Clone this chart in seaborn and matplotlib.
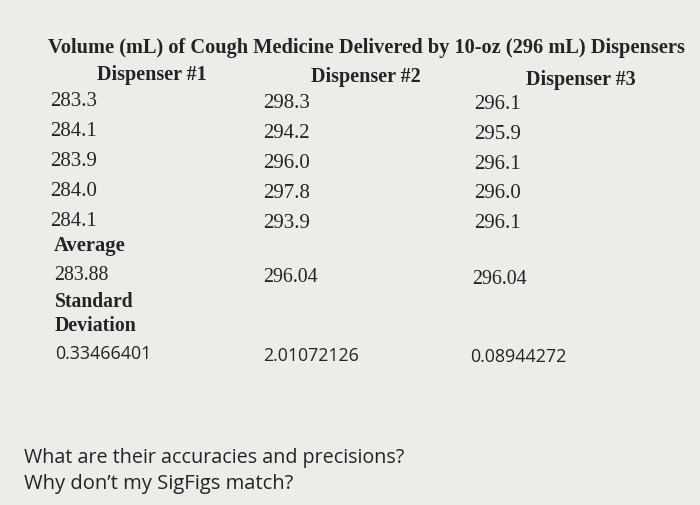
import matplotlib
matplotlib.use("Agg")
import matplotlib.pyplot as plt
import seaborn as sns

sns.set_theme(style="white")
plt.rcParams['font.family'] = ['Liberation Serif', 'DejaVu Serif']

# slide text and values
title = "Volume (mL) of Cough Medicine Delivered by 10-oz (296 mL) Dispensers"
dispensers = ["Dispenser #1", "Dispenser #2", "Dispenser #3"]
disp1 = [283.3, 284.1, 283.9, 284.0, 284.1]
disp2 = [298.3, 294.2, 296.0, 297.8, 293.9]
disp3 = [296.1, 295.9, 296.1, 296.0, 296.1]
averages = [283.88, 296.04, 296.04]
std_devs = [0.33466401, 2.01072126, 0.08944272]
questions = ["What are their accuracies and precisions?",
             "Why don\u2019t my SigFigs match?"]

fig = plt.figure(figsize=(7, 5.06), dpi=100)
fig.patch.set_facecolor('#ecede9')
ax = fig.add_axes([0, 0, 1, 1])
ax.set_xlim(0, 700)
ax.set_ylim(506, 0)
ax.axis('off')
renderer = fig.canvas.get_renderer()
ink = '#242424'


def put(x, y, s, width, ha='left', **kw):
    # draw text, then scale font so it spans the wanted pixel width
    t = ax.text(x, y, s, ha=ha, va='center', color=ink, fontsize=14, **kw)
    ext = t.get_window_extent(renderer)
    t.set_fontsize(14 * width / ext.width)
    return t


put(366, 48, title, 638, ha='center', fontweight='bold')

head_x = [152, 366, 581]
head_y = [75, 77, 80]
for name, x, y in zip(dispensers, head_x, head_y):
    put(x, y, name, 110, ha='center', fontweight='bold')

col_x = [49, 262, 473]
col_dy = [0, 2, 3]
row_y = [101, 131, 161, 191, 221]
for cx, dy, vals in zip(col_x, col_dy, [disp1, disp2, disp3]):
    for y, v in zip(row_y, vals):
        put(cx + 1, y + dy, f"{v:.1f}", 47)

put(54, 246, "Average", 72, fontweight='bold')
avg_x = [54, 263, 472]
avg_y = [276, 278, 279]
for x, y, v in zip(avg_x, avg_y, averages):
    put(x, y, f"{v:.2f}", 55)

put(55, 302, "Standard", 79, fontweight='bold')
put(55, 326, "Deviation", 82, fontweight='bold')

sd_x = [55, 263, 470]
sd_y = [354, 356, 357]
for x, y, v in zip(sd_x, sd_y, std_devs):
    put(x, y, f"{v:.8f}", 97, family=['Open Sans', 'DejaVu Sans'])

put(24, 458, questions[0], 383, family=['Open Sans', 'DejaVu Sans'])
put(24, 484, questions[1], 270, family=['Open Sans', 'DejaVu Sans'])

fig.savefig('out.png', dpi=100, facecolor=fig.get_facecolor())
